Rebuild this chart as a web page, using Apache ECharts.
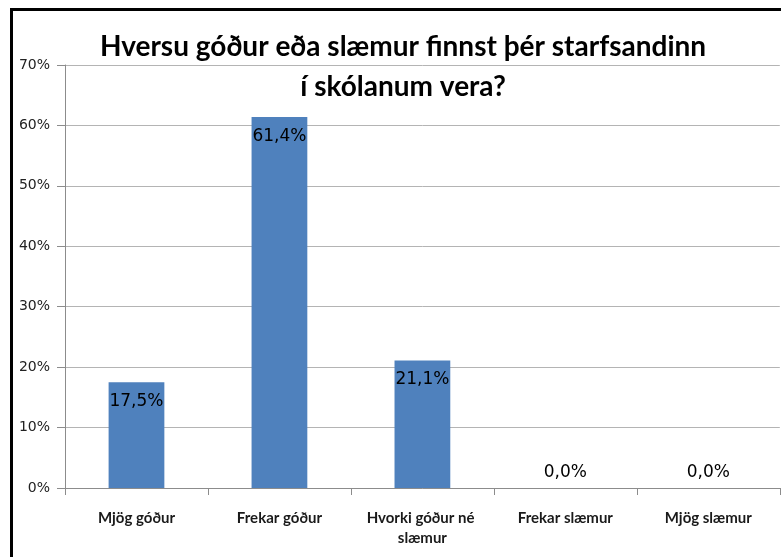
<!DOCTYPE html>
<html>
<head>
    <meta charset="UTF-8">
    <title>Starfsandinn</title>
    <script src="https://cdn.jsdelivr.net/npm/echarts@6/dist/echarts.min.js"></script>
    <style>
        html, body { margin: 0; padding: 0; background: #fff; overflow: hidden; }
        #chart { width: 781px; height: 557px; }
    </style>
</head>
<body>
<div id="chart"></div>
<script>
    // gögn
    const categories = ['Mjög góður', 'Frekar góður', 'Hvorki góður né slæmur', 'Frekar slæmur', 'Mjög slæmur'];
    const values = [17.5, 61.4, 21.1, 0.0, 0.0];
    const yTicks = [0, 10, 20, 30, 40, 50, 60, 70];

    const chart = echarts.init(document.getElementById('chart'));

    const option = {
        animation: false,
        title: {
            text: 'Hversu góður eða slæmur finnst þér starfsandinn\ní skólanum vera?',
            left: 398,
            top: 22,
            textAlign: 'center',
            textStyle: {
                fontFamily: 'Lato',
                fontWeight: 'bold',
                fontSize: 28,
                lineHeight: 40,
                color: '#000'
            }
        },
        graphic: [{
            type: 'rect',
            shape: { x: 11.5, y: 9.5, width: 900, height: 700 },
            style: { fill: 'none', stroke: '#000', lineWidth: 3 },
            silent: true
        }],
        grid: {
            left: 65,
            top: 65,
            right: -2,
            bottom: 69
        },
        xAxis: {
            type: 'category',
            data: categories,
            axisLine: { lineStyle: { color: '#8c8c8c' } },
            axisTick: { show: true, length: 7, lineStyle: { color: '#8c8c8c' } },
            axisLabel: {
                margin: 20,
                interval: 0,
                width: 140,
                overflow: 'break',
                lineHeight: 20,
                fontFamily: 'Lato',
                fontWeight: 'bold',
                fontSize: 15,
                color: '#1a1a1a'
            }
        },
        yAxis: {
            type: 'value',
            min: yTicks[0],
            max: yTicks[yTicks.length - 1],
            interval: 10,
            axisLine: { show: true, lineStyle: { color: '#8c8c8c' } },
            axisTick: { show: true, length: 8, lineStyle: { color: '#8c8c8c' } },
            splitLine: { lineStyle: { color: '#b4b4b4', width: 1 } },
            axisLabel: {
                margin: 15,
                fontFamily: 'DejaVu Sans',
                fontSize: 14,
                color: '#222',
                formatter: v => v + '%'
            }
        },
        series: [{
            type: 'bar',
            barWidth: '39%',
            itemStyle: { color: '#4f81bd' },
            label: {
                show: true,
                position: 'insideTop',
                distance: 11,
                fontFamily: 'DejaVu Sans',
                fontSize: 17,
                color: '#000',
                formatter: p => p.value.toFixed(1).replace('.', ',') + '%'
            },
            data: values.map(v => v === 0
                ? { value: v, label: { position: 'top', distance: 7 } }
                : v)
        }]
    };

    chart.setOption(option);
</script>
</body>
</html>
